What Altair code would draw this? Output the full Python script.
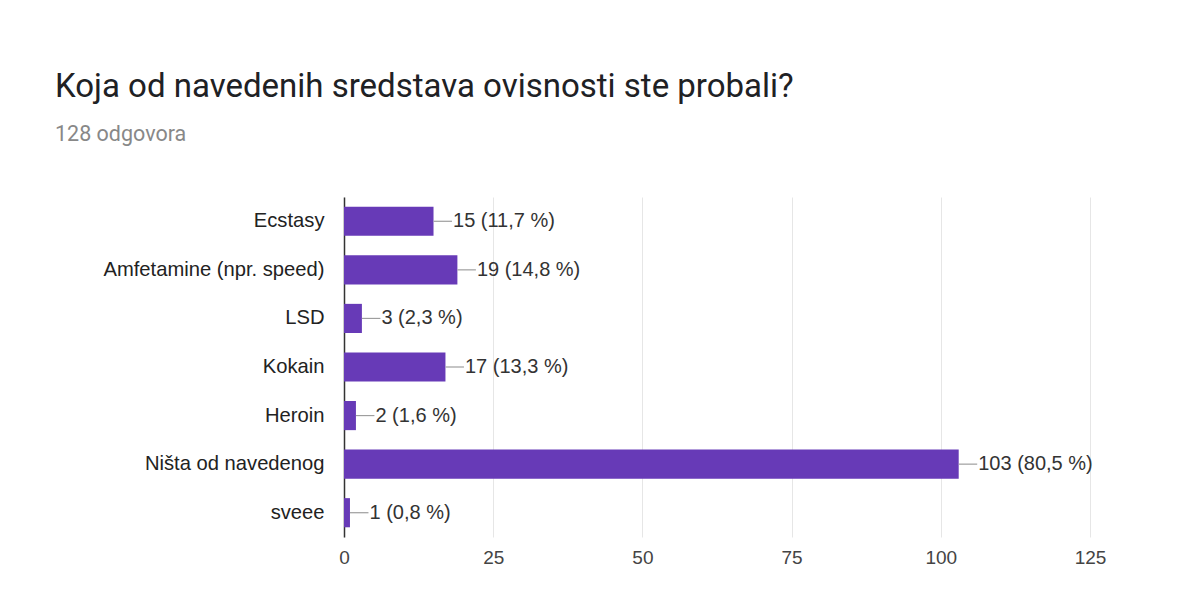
import altair as alt
import pandas as pd

categories = ["Ecstasy", "Amfetamine (npr. speed)", "LSD", "Kokain", "Heroin",
              "Ništa od navedenog", "sveee"]
counts = [15, 19, 3, 17, 2, 103, 1]
labels = ["15 (11,7 %)", "19 (14,8 %)", "3 (2,3 %)", "17 (13,3 %)", "2 (1,6 %)",
          "103 (80,5 %)", "1 (0,8 %)"]
x_ticks = [0, 25, 50, 75, 100, 125]

df = pd.DataFrame({"cat": categories, "count": counts, "label": labels})

base = alt.Chart(df).transform_calculate(end="datum['count'] + 3.1").encode(
    y=alt.Y("cat:N", sort=categories, title=None,
            scale=alt.Scale(paddingInner=0.4, paddingOuter=0.2),
            axis=alt.Axis(domainColor="#333333", domainWidth=1.5, ticks=False,
                          labelPadding=20, labelFontSize=20.2, labelColor="#222222",
                          labelFont="Liberation Sans", labelLimit=320, grid=False))
)

bars = base.mark_bar(color="#673ab7").encode(
    x=alt.X("count:Q", title=None, scale=alt.Scale(domain=[0, 125], nice=False),
            axis=alt.Axis(values=x_ticks, grid=True, gridColor="#e6e6e6", domain=False,
                          ticks=False, labelPadding=11, labelFontSize=19,
                          labelFlush=False,
                          labelColor="#444444", labelFont="Liberation Sans"))
)

rule = base.mark_rule(color="#9e9e9e", strokeWidth=1.2).encode(
    x="count:Q", x2="end:Q"
)

text = base.mark_text(align="left", dx=1, fontSize=20, color="#333333",
                      font="Liberation Sans").encode(
    x="end:Q", text="label:N"
)

chart = alt.layer(bars, rule, text).properties(
    width=746, height=340,
    autosize=alt.AutoSizeParams(type="none"),
    padding={"left": 336, "top": 189, "right": 86, "bottom": 40},
    title=alt.TitleParams(
        text="Koja od navedenih sredstava ovisnosti ste probali?",
        subtitle="128 odgovora",
        anchor="start", frame="group", dx=-289, offset=52,
        font="Roboto", fontSize=33, fontWeight="normal", color="#202124",
        subtitleFont="Roboto", subtitleFontSize=21.5, subtitleColor="#888888",
        subtitlePadding=20,
    ),
).configure_view(stroke=None)

chart.save("out.html", embed_options={"renderer": "svg", "actions": False})
